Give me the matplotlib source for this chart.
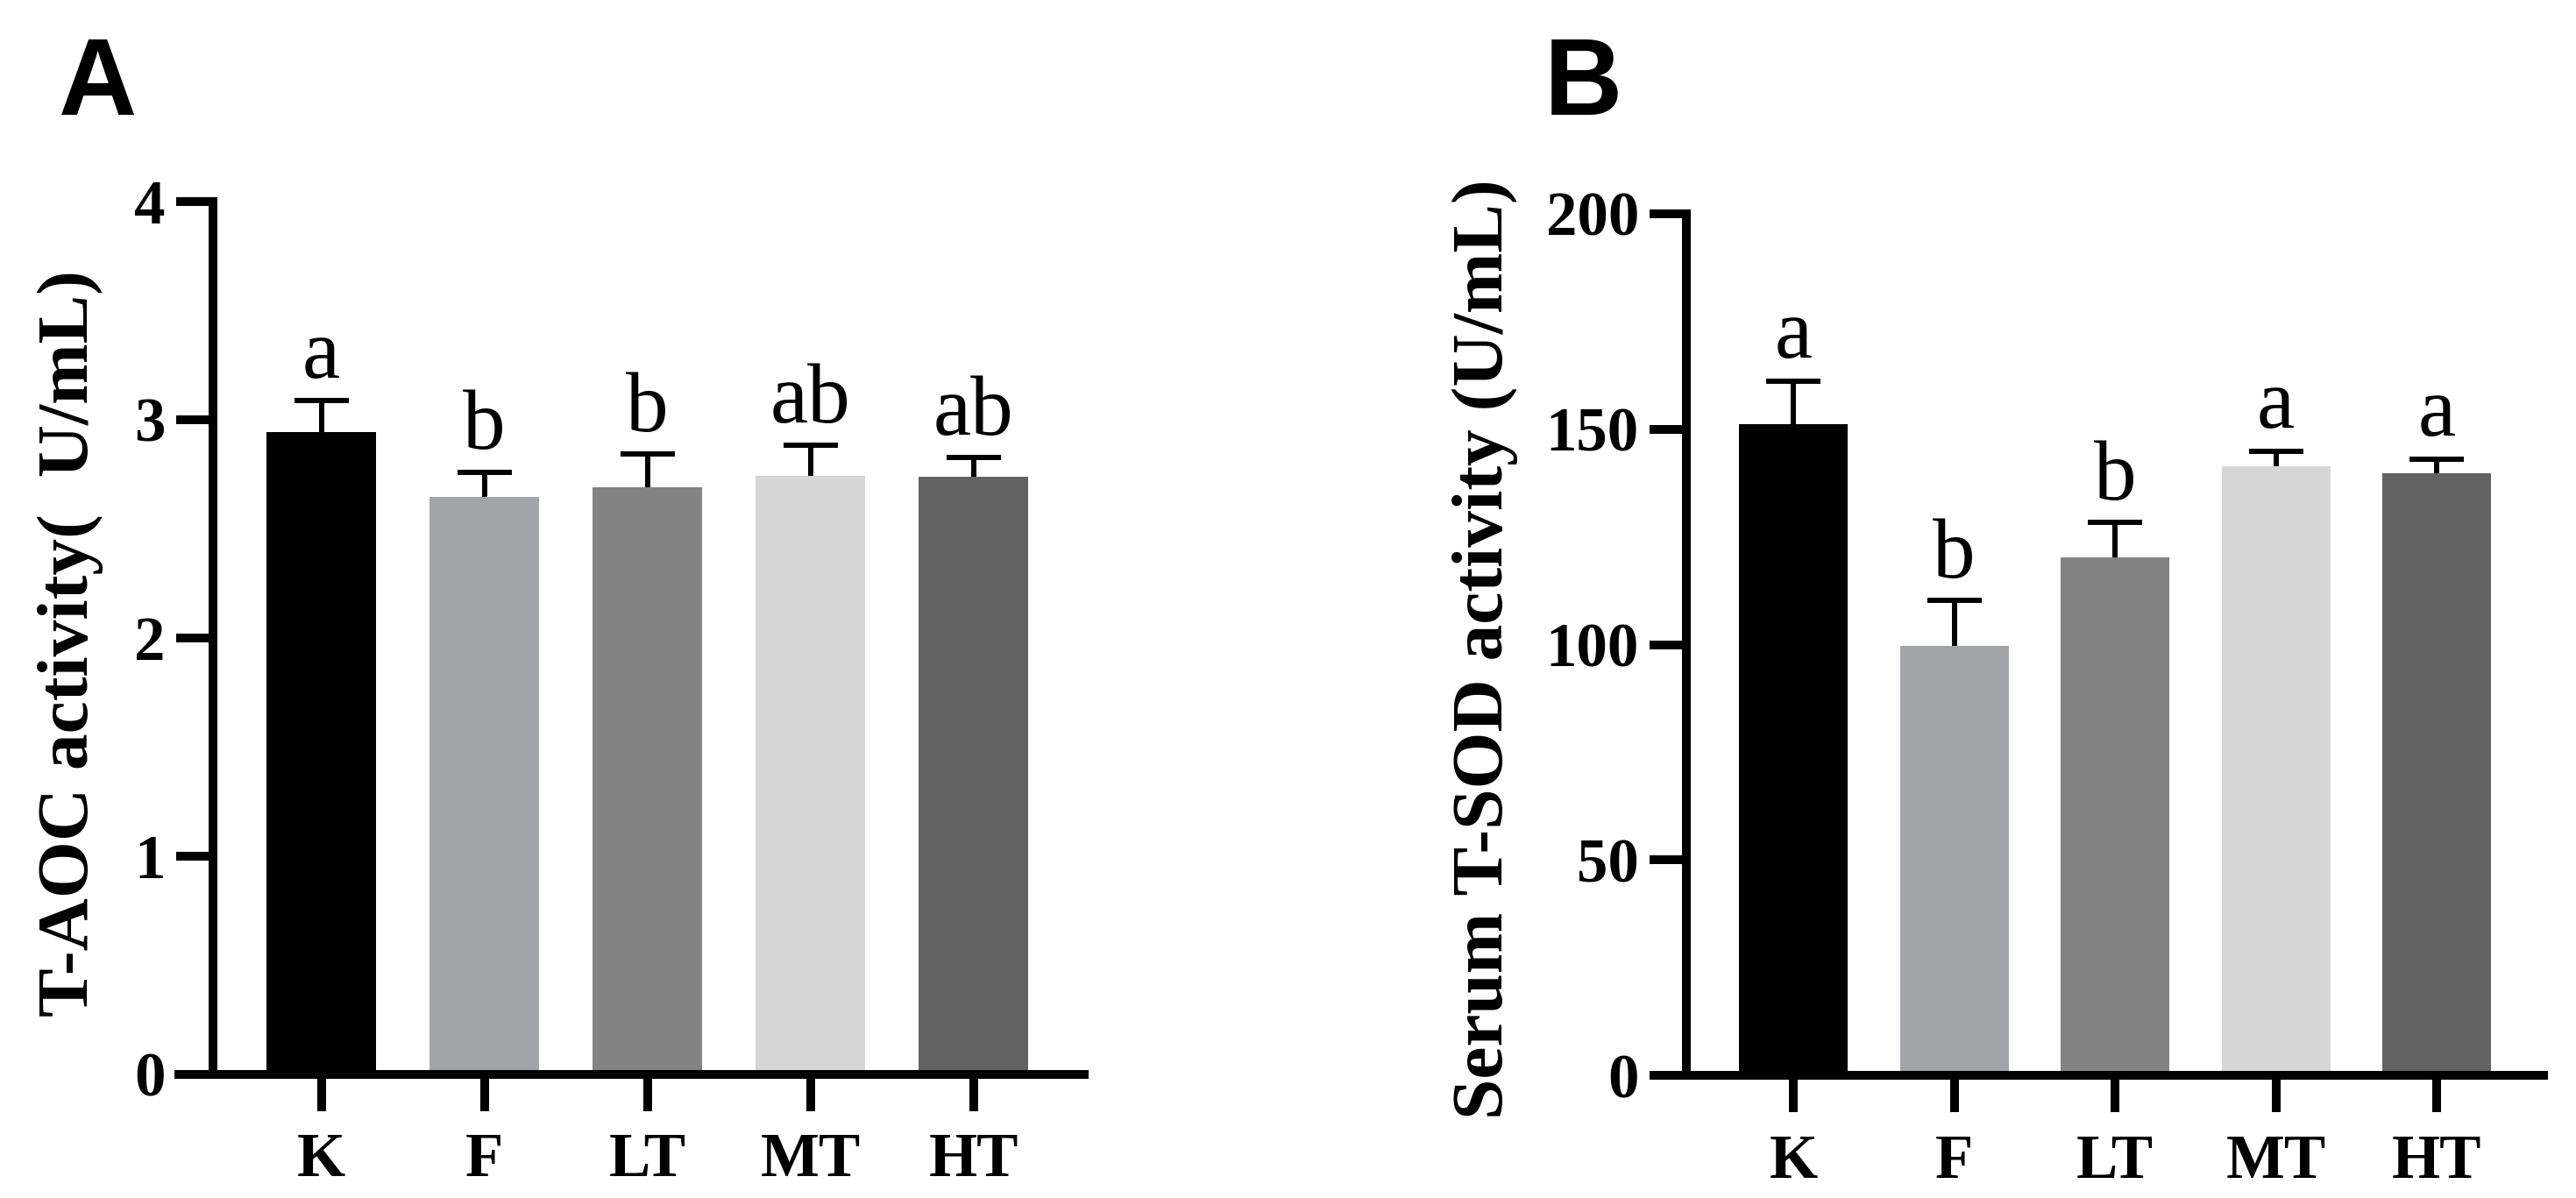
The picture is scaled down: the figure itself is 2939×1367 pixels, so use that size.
import numpy as np
import matplotlib
matplotlib.use('Agg')
import matplotlib.pyplot as plt

groups = ['K', 'F', 'LT', 'MT', 'HT']
bar_colors = ['#000000', '#a3a4a8', '#838383', '#d6d6d6', '#626262']

taoc_mean = [2.94, 2.645, 2.69, 2.74, 2.735]
taoc_err = [0.145, 0.113, 0.15, 0.14, 0.09]
taoc_letters = ['a', 'b', 'b', 'ab', 'ab']

sod_mean = [151.1, 99.6, 120.2, 141.5, 139.7]
sod_err = [10.1, 10.6, 8.2, 3.4, 3.4]
sod_letters = ['a', 'b', 'b', 'a', 'a']

serif = 'Liberation Serif'
lw = 7.2

fig = plt.figure(figsize=(29.39, 13.67), dpi=100)
axA = fig.add_axes([0.06941, 0.10351, 0.35148, 0.72860])
axB = fig.add_axes([0.64206, 0.10241, 0.34536, 0.71910])


def panel(ax, mean, err, letters, ylim, yticks, ylabel, xlim, labx, laby):
    x = np.arange(len(groups))
    ax.bar(x, mean, width=0.675, color=bar_colors, linewidth=0, zorder=3)
    # symmetric bars drawn under the bars, so only the upper half shows
    ax.errorbar(x, mean, yerr=err, fmt='none',
                ecolor='black', elinewidth=4.3, capsize=22.5, capthick=4.3,
                zorder=2)
    for xi, m, e, t in zip(x, mean, err, letters):
        ax.annotate(t, (xi, m + e), xytext=(0, 19), textcoords='offset points',
                    ha='center', va='baseline', fontsize=70, family=serif)
    ax.set_xlim(*xlim)
    ax.set_ylim(*ylim)
    ax.set_yticks(yticks)
    ax.set_xticks(x)
    ax.set_xticklabels(groups)
    for s in ['top', 'right']:
        ax.spines[s].set_visible(False)
    ax.spines['left'].set_position(('data', -0.666))
    for s in ['left', 'bottom']:
        ax.spines[s].set_linewidth(lw)
        ax.spines[s].set_zorder(4)
    ax.tick_params(axis='both', length=30, width=lw, labelsize=51)
    ax.tick_params(axis='x', pad=18)
    ax.tick_params(axis='y', pad=9)
    for lab in ax.get_xticklabels() + ax.get_yticklabels():
        lab.set_family(serif)
        lab.set_fontweight('bold')
    ax.set_ylabel(ylabel, fontsize=60, family=serif, fontweight='bold')
    ax.yaxis.set_label_coords(labx, laby)


panel(axA, taoc_mean, taoc_err, taoc_letters, (0, 4), [0, 1, 2, 3, 4],
      'T-AOC activity(  U/mL)', (-0.874, 4.68), -0.0833, 0.493)
panel(axB, sod_mean, sod_err, sod_letters, (0, 200), [0, 50, 100, 150, 200],
      'Serum T-SOD activity (U/mL)', (-0.868, 4.665), -0.1527, 0.495)

fig.text(67 / 2939, 1 - 131 / 1367, 'A', fontsize=89, fontweight='bold',
         family='Liberation Sans', va='baseline', ha='left')
fig.text(1762 / 2939, 1 - 131 / 1367, 'B', fontsize=89, fontweight='bold',
         family='Liberation Sans', va='baseline', ha='left')

fig.savefig('out.png', dpi=100)
